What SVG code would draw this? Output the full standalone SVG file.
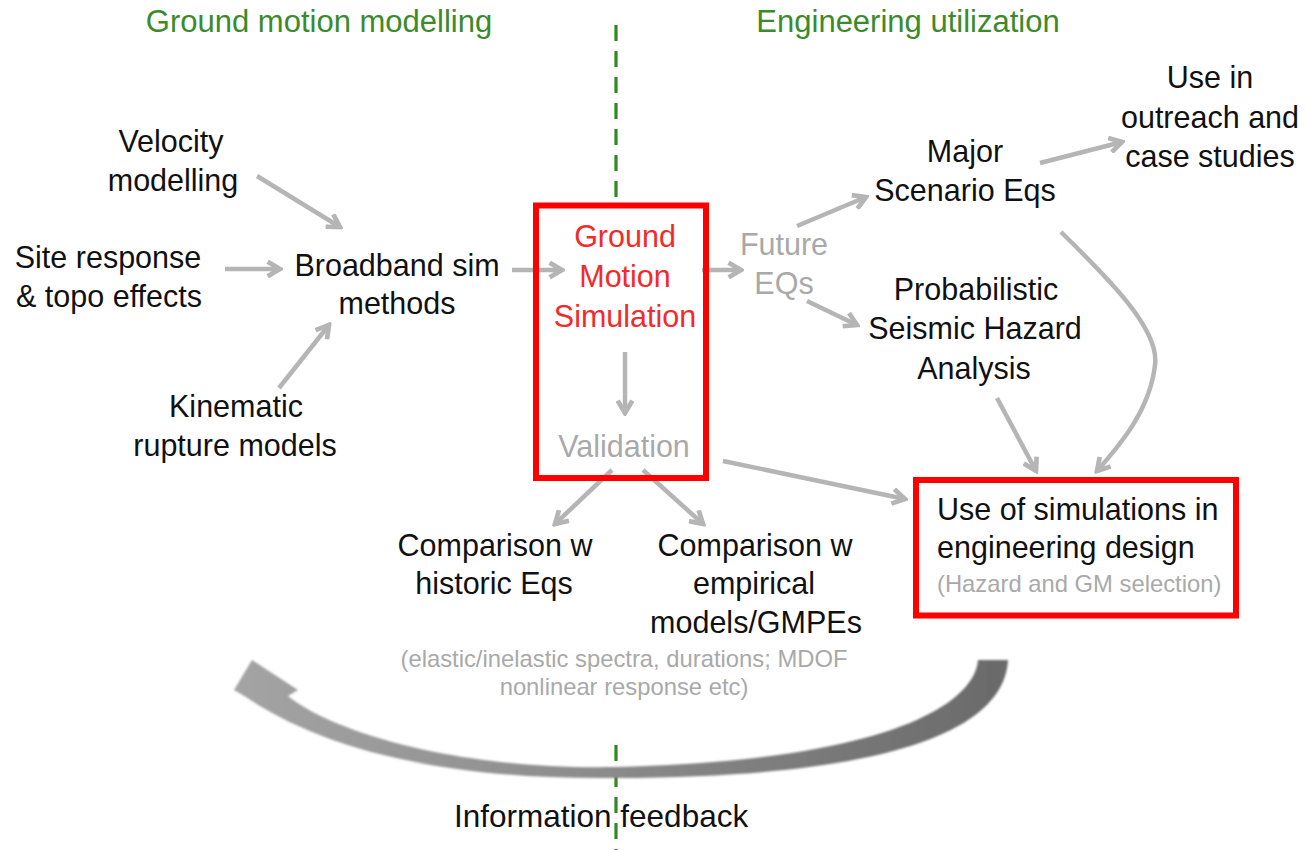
<svg xmlns="http://www.w3.org/2000/svg" width="1306" height="850" viewBox="0 0 1306 850">
<style>
text{font-family:"Liberation Sans",Arial,sans-serif;text-anchor:middle}
.t{font-size:30.5px;fill:#111}
.h{font-size:31px;fill:#3b8a2b}
.g{font-size:30.5px;fill:#a9a9a9}
.r{font-size:30.5px;fill:#f22a2a}
.s{font-size:23.8px;fill:#a9a9a9}
.l{text-anchor:start}
.c{fill:none;stroke:#b5b5b5;stroke-width:4.5;marker-end:url(#ah)}
.box{fill:none;stroke:#ff0000;stroke-width:6}
</style>
<defs>
<marker id="ah" viewBox="0 0 16 16" markerUnits="userSpaceOnUse" markerWidth="18" markerHeight="18" refX="13" refY="8" orient="auto">
<path d="M2,1.5 L13,8 L2,14.5" fill="none" stroke="#b5b5b5" stroke-width="4.2"/>
</marker>
<linearGradient id="fb" x1="235" y1="0" x2="1008" y2="0" gradientUnits="userSpaceOnUse">
<stop offset="0" stop-color="#a4a4a4"/>
<stop offset="0.5" stop-color="#8a8a8a"/>
<stop offset="1" stop-color="#6a6a6a"/>
</linearGradient>
<filter id="sh" x="-5%" y="-20%" width="110%" height="140%">
<feGaussianBlur stdDeviation="1"/>
</filter>
</defs>
<rect width="1306" height="850" fill="#fff"/>
<g id="divider">
<line x1="616" y1="25" x2="616" y2="200" stroke="#2f8a24" stroke-width="3.2" stroke-dasharray="16 10"/>
<line x1="616" y1="745" x2="616" y2="850" stroke="#2f8a24" stroke-width="3.2" stroke-dasharray="16 10"/>
</g>
<g id="titles">
<text class="h" x="319" y="32">Ground motion modelling</text>
<text class="h" x="908" y="32">Engineering utilization</text>
</g>
<g id="connectors">
<line class="c" x1="257" y1="176" x2="340" y2="227"/>
<line class="c" x1="225" y1="269" x2="280" y2="269"/>
<line class="c" x1="279" y1="388" x2="329" y2="325"/>
<line class="c" x1="512" y1="270" x2="562" y2="270"/>
<line class="c" x1="702" y1="270" x2="741" y2="270"/>
<line class="c" x1="797" y1="226" x2="866" y2="197"/>
<line class="c" x1="807" y1="301" x2="857" y2="325"/>
<line class="c" x1="625" y1="352" x2="625" y2="413"/>
<line class="c" x1="612" y1="470" x2="555" y2="524"/>
<line class="c" x1="643" y1="470" x2="703" y2="524"/>
<line class="c" x1="723" y1="461" x2="905" y2="499"/>
<line class="c" x1="1040" y1="163" x2="1122" y2="142"/>
<path class="c" d="M1061,232 C1110,280 1160,330 1155,365 C1150,410 1120,445 1097,471"/>
<line class="c" x1="997" y1="398" x2="1036" y2="471"/>
<path id="feedback-arrow" d="M1008,660 C1005,720 920,777 616,778 C440,780 320,748 246,697 L234,690 L252,660 L298,690 L288,696 C330,730 450,770 616,767 C900,760 975,700 978,660 Z" fill="url(#fb)" filter="url(#sh)"/>
</g>
<g id="velocity"><text class="t" x="171" y="152">Velocity</text><text class="t" x="173" y="191">modelling</text></g>
<g id="site"><text class="t" x="108" y="268">Site response</text><text class="t" x="109" y="307">&amp; topo effects</text></g>
<g id="broadband"><text class="t" x="397" y="276">Broadband sim</text><text class="t" x="397" y="314">methods</text></g>
<g id="kinematic"><text class="t" x="236" y="417">Kinematic</text><text class="t" x="235" y="456">rupture models</text></g>
<g id="gms">
<rect class="box" x="536" y="205.5" width="170" height="272.5"/>
<text class="r" x="625" y="247">Ground</text><text class="r" x="625" y="287">Motion</text><text class="r" x="625" y="327">Simulation</text>
<text class="g" x="624" y="457">Validation</text>
</g>
<g id="future"><text class="g" x="784" y="255">Future</text><text class="g" x="784" y="294">EQs</text></g>
<g id="major"><text class="t" x="965" y="162">Major</text><text class="t" x="965" y="201">Scenario Eqs</text></g>
<g id="outreach"><text class="t" x="1210" y="88">Use in</text><text class="t" x="1210" y="128">outreach and</text><text class="t" x="1210" y="167">case studies</text></g>
<g id="psha"><text class="t" x="976" y="300">Probabilistic</text><text class="t" x="975" y="339">Seismic Hazard</text><text class="t" x="974" y="379">Analysis</text></g>
<g id="historic"><text class="t" x="495" y="556">Comparison w</text><text class="t" x="494" y="594">historic Eqs</text></g>
<g id="empirical"><text class="t" x="755" y="556">Comparison w</text><text class="t" x="754" y="594">empirical</text><text class="t" x="756" y="633">models/GMPEs</text></g>
<g id="note"><text class="s" x="624" y="667">(elastic/inelastic spectra, durations; MDOF</text><text class="s" x="624" y="695">nonlinear response etc)</text></g>
<g id="engineering">
<rect class="box" x="916" y="480" width="320" height="135.5"/>
<text class="t l" x="937" y="520">Use of simulations in</text>
<text class="t l" x="937" y="558">engineering design</text>
<text class="s l" x="937" y="592">(Hazard and GM selection)</text>
</g>
<g id="feedback"><text class="t l" x="454" y="827" style="font-size:31.5px">Information feedback</text></g>
</svg>
